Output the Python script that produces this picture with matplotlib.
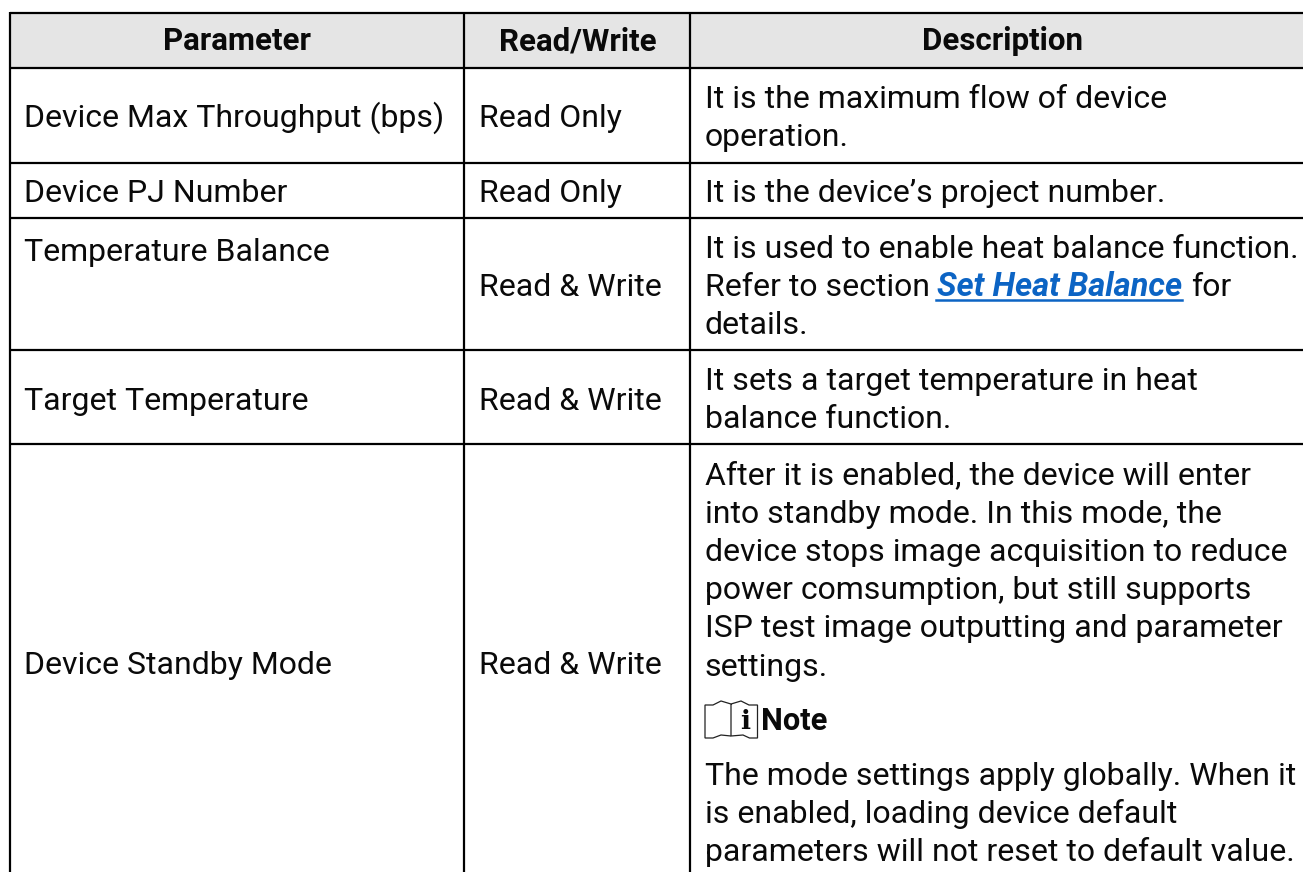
import matplotlib
matplotlib.use("Agg")
import matplotlib.pyplot as plt
from matplotlib.patches import Rectangle, PathPatch
from matplotlib.path import Path

W, H = 1303, 872
headers = ["Parameter", "Read/Write", "Description"]
params = ["Device Max Throughput (bps)", "Device PJ Number", "Temperature Balance", "Target Temperature", "Device Standby Mode"]
modes = ["Read Only", "Read Only", "Read & Write", "Read & Write", "Read & Write"]
desc = [
    ["It is the maximum flow of device", "operation."],
    ["It is the device’s project number."],
    ["It is used to enable heat balance function.", "Refer to section", "details."],
    ["It sets a target temperature in heat", "balance function."],
    ["After it is enabled, the device will enter", "into standby mode. In this mode, the",
     "device stops image acquisition to reduce", "power comsumption, but still supports",
     "ISP test image outputting and parameter", "settings."],
]
note = ["The mode settings apply globally. When it", "is enabled, loading device default",
        "parameters will not reset to default value."]

plt.rcParams['font.family'] = ['Roboto', 'DejaVu Sans']
fig = plt.figure(figsize=(W/100, H/100), dpi=100)
ax = fig.add_axes([0, 0, 1, 1])
ax.set_xlim(0, W); ax.set_ylim(H, 0); ax.axis('off')

x = [10, 464, 690, 1305]
y = [13, 68.5, 163, 218.5, 350.5, 444, 872]
fs = 23.05
fsb = 22.5
ink = '#0a0a0a'
ax.add_patch(Rectangle((x[0], y[0]), x[3]-x[0], y[1]-y[0], fc='#e5e5e5', ec='none'))
lw = 1.6
for v in x:
    ax.plot([v, v], [y[0]-1, y[-1]], color='black', lw=lw, solid_capstyle='butt')
for v in y[:-1]:
    ax.plot([x[0], x[3]], [v, v], color='black', lw=lw, solid_capstyle='butt')

hc = [237, 577.5, 1002.5]
for c, h in zip(hc, headers):
    ax.text(c, 50.5, h, ha='center', va='baseline', fontsize=fsb, weight='bold', color=ink)

py = [127, 202, 260.5, 410, 674]
my = [127, 202, 296, 410, 674]
for p, m, a, b in zip(params, modes, py, my):
    ax.text(24, a, p, va='baseline', fontsize=fs, color=ink)
    ax.text(479, b, m, va='baseline', fontsize=fs, color=ink)

tx = 705
ys = [[108, 146], [202], [258, 296, 334], [390, 428], [484, 522.5, 560.5, 599, 637, 676]]
for lines, yy in zip(desc, ys):
    for t, v in zip(lines, yy):
        ax.text(tx, v, t, va='baseline', fontsize=fs, color=ink)

# inline link on the second line of the Temperature Balance row
fig.canvas.draw()
r = fig.canvas.get_renderer()
probe = ax.text(tx, 296, "Refer to section", va='baseline', fontsize=fs)
probe_w = probe.get_window_extent(r).width
probe.remove()
link_x = tx + probe_w + 7
link = ax.text(link_x, 296, "Set Heat Balance", va='baseline', fontsize=23.6, color='#0c64c4', weight='bold', style='italic')
link_w = link.get_window_extent(r).width
ax.plot([link_x-1, link_x+link_w], [300, 300], color='#0c64c4', lw=1.8)
ax.text(link_x+link_w+9, 296, "for", va='baseline', fontsize=fs, color=ink)

# note icon
L, M, R, T, B = 705, 731, 757.5, 702, 738
left = Path([(M, T+2), (L+16, T-1), (L+8, T+3), (L, T+3), (L, B), (L+8, B), (L+16, B-3), (M, B-2)], [1, 2, 2, 2, 2, 2, 2, 2])
right = Path([(M, T+2), (M+10, T-1), (M+18, T+3), (R, T+3), (R, B), (R-8, B), (M+12, B-3), (M, B-2), (M, T+2)], [1, 2, 2, 2, 2, 2, 2, 2, 2])
for p in (left, right):
    ax.add_patch(PathPatch(p, fc='white', ec='#222222', lw=0.9))
ax.text(745, 729, "i", ha='center', va='baseline', fontsize=19, family='DejaVu Serif', weight='bold', color=ink)
ax.text(761, 730, "Note", va='baseline', fontsize=22.2, weight='bold', color=ink)
for t, v in zip(note, [785, 823, 861]):
    ax.text(tx, v, t, va='baseline', fontsize=fs, color=ink)

fig.savefig("out.png", dpi=100)
